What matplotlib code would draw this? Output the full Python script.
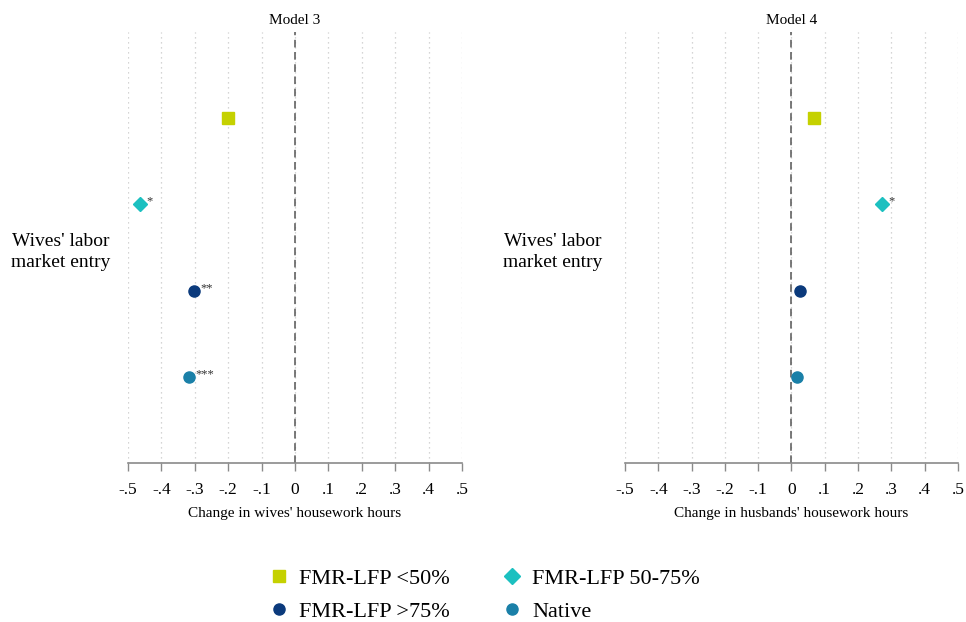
import matplotlib
matplotlib.use("Agg")
import matplotlib.pyplot as plt
from matplotlib.lines import Line2D

plt.rcParams["font.family"] = ["Liberation Serif", "DejaVu Serif"]

groups = ["FMR-LFP <50%", "FMR-LFP 50-75%", "FMR-LFP >75%", "Native"]
markers = ["s", "D", "o", "o"]
colors = ["#c5d100", "#1cc0c0", "#0b3a7c", "#1a80a8"]
sizes = [8, 7.5, 8, 8]

# point estimates per group
model3 = [-0.200, -0.464, -0.302, -0.317]
model4 = [0.069, 0.273, 0.027, 0.018]
stars3 = ["", "*", "**", "***"]
stars4 = ["", "*", "", ""]

ticks = [-0.5, -0.4, -0.3, -0.2, -0.1, 0, 0.1, 0.2, 0.3, 0.4, 0.5]
tick_labels = ["-.5", "-.4", "-.3", "-.2", "-.1", "0", ".1", ".2", ".3", ".4", ".5"]

fig = plt.figure(figsize=(9.66, 6.22), dpi=100)
ax3 = fig.add_axes([0.1325, 0.2556, 0.3458, 0.693])
ax4 = fig.add_axes([0.647, 0.2556, 0.3447, 0.693])


def draw_panel(ax, vals, stars, title, xlabel, label_x):
    for x in ticks:
        ax.axvline(x, color="#c8c8c8", lw=0.9, ls=(0, (1, 3)), zorder=0)
    ax.axvline(0, color="#555555", lw=1.1, ls=(0, (5, 3)), zorder=1)
    for i, (v, s) in enumerate(zip(vals, stars)):
        y = i + 1
        ax.plot(v, y, marker=markers[i], color=colors[i], ms=sizes[i],
                ls="none", zorder=3)
        if s:
            ax.text(v + 0.018, y - 0.03, s, fontsize=9, color="#333333",
                    va="center", ha="left")
    ax.set_xlim(-0.5, 0.5)
    ax.set_ylim(5, 0)
    ax.set_xticks(ticks)
    ax.set_xticklabels(tick_labels, fontsize=12.5)
    ax.set_yticks([])
    for side in ["top", "right", "left"]:
        ax.spines[side].set_visible(False)
    ax.spines["bottom"].set_color("#8a8a8a")
    ax.spines["bottom"].set_linewidth(1.2)
    ax.tick_params(axis="x", direction="out", length=6, color="#8a8a8a",
                   width=1.0, pad=8)
    ax.set_xlabel(xlabel, fontsize=11, labelpad=6)
    ax.set_title(title, fontsize=11, pad=6)
    # row label sits to the left of the plot area, centred vertically
    ax.text(label_x, 0.49, "Wives' labor\nmarket entry", transform=ax.transAxes,
            fontsize=14, ha="center", va="center", linespacing=1.3)


draw_panel(ax3, model3, stars3, "Model 3", "Change in wives' housework hours", -0.2)
draw_panel(ax4, model4, stars4, "Model 4", "Change in husbands' housework hours", -0.216)

handles = [Line2D([], [], marker=m, color=c, ls="none", ms=8)
           for m, c in zip(markers, colors)]
order = [0, 2, 1, 3]
fig.legend([handles[i] for i in order], [groups[i] for i in order],
           ncol=2, loc="center", bbox_to_anchor=(0.5, 0.043), frameon=False,
           fontsize=16, handletextpad=0.3, columnspacing=2.2,
           labelspacing=0.55, handlelength=1.2)

fig.savefig("out.png", dpi=100)
